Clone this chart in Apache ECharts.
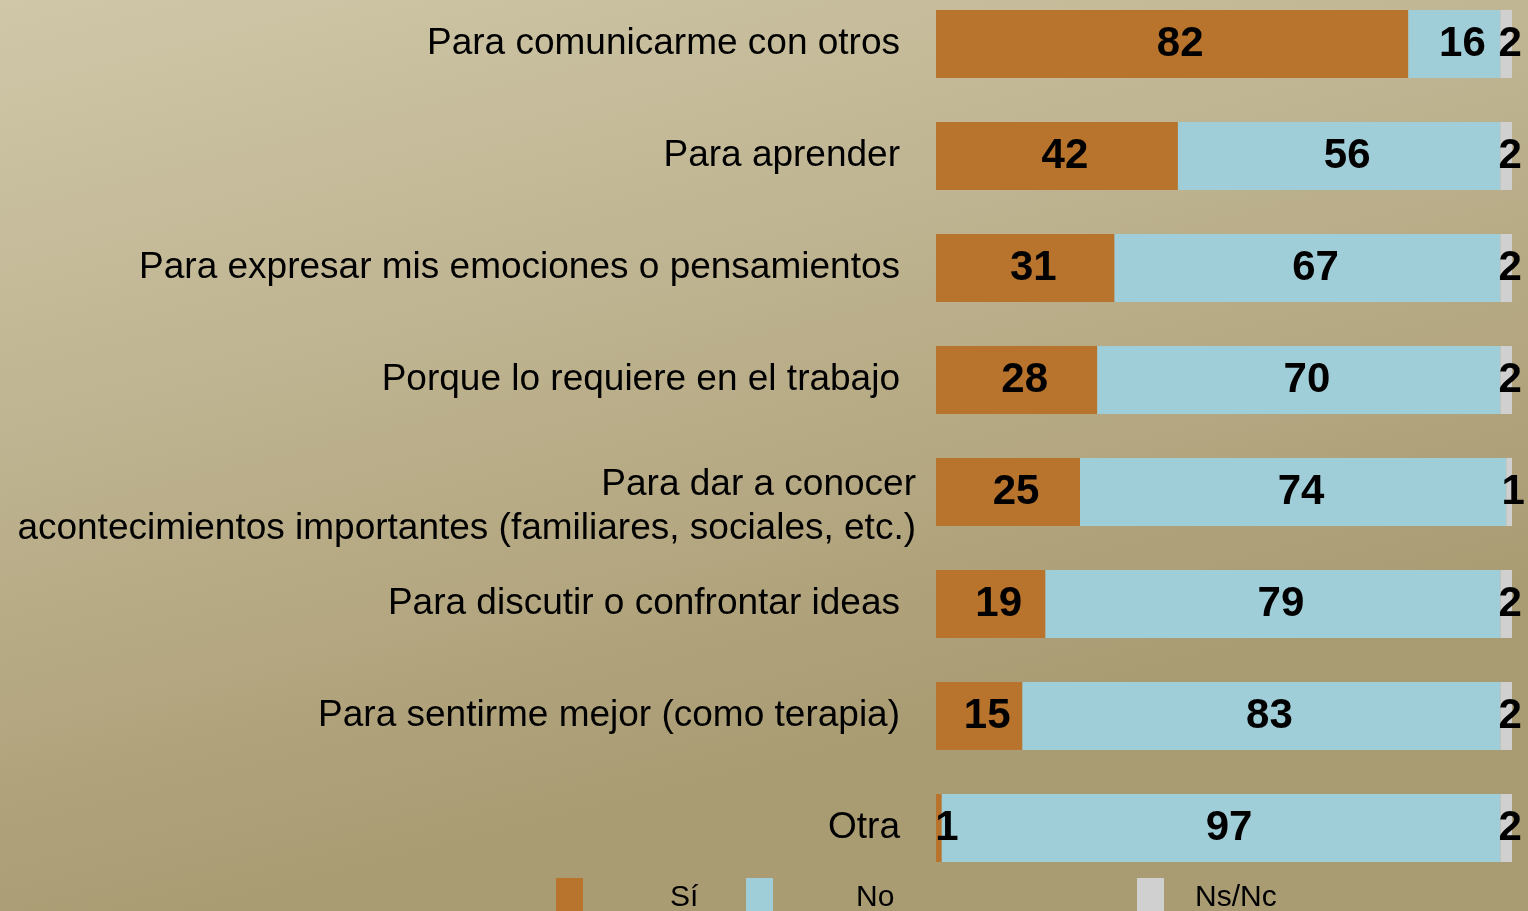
<!DOCTYPE html>
<html>
<head>
<meta charset="utf-8">
<script src="https://cdn.jsdelivr.net/npm/echarts@6/dist/echarts.min.js"></script>
<style>
  html, body { margin: 0; padding: 0; }
  #main { width: 1528px; height: 911px; }
</style>
</head>
<body>
<div id="main"></div>
<script>
// categorias (de arriba a abajo)
var categorias = [
  "Para comunicarme con otros",
  "Para aprender",
  "Para expresar mis emociones o pensamientos",
  "Porque lo requiere en el trabajo",
  "Para dar a conocer\nacontecimientos importantes (familiares, sociales, etc.)",
  "Para discutir o confrontar ideas",
  "Para sentirme mejor (como terapia)",
  "Otra"
];
var si   = [82, 42, 31, 28, 25, 19, 15, 1];
var no   = [16, 56, 67, 70, 74, 79, 83, 97];
var nsnc = [2, 2, 2, 2, 1, 2, 2, 2];

var colores = ["#b8732c", "#a0ced8", "#d0d0d0"];
var fuente = "Liberation Sans, Arial, sans-serif";

var chart = echarts.init(document.getElementById("main"));

// la etiqueta de dos lineas va un poco mas a la derecha
var yData = categorias.map(function (c, i) {
  if (i === 4) {
    return { value: c, textStyle: { padding: [0, -16, 0, 0] } };
  }
  return c;
});

function serie(nombre, datos, dx) {
  return {
    name: nombre,
    type: "bar",
    stack: "total",
    barWidth: 68,
    data: datos,
    label: {
      show: true,
      position: "inside",
      offset: [dx, 0],
      color: "#000",
      fontSize: 42,
      fontWeight: "bold",
      fontFamily: fuente
    }
  };
}

function leyenda(nombre, x, pad) {
  return {
    data: [nombre],
    left: x,
    top: 878,
    padding: 0,
    icon: "rect",
    itemWidth: 27,
    itemHeight: 40,
    textStyle: {
      fontSize: 30,
      color: "#000",
      fontFamily: fuente,
      padding: [0, 0, 0, pad]
    }
  };
}

chart.setOption({
  animation: false,
  color: colores,
  backgroundColor: new echarts.graphic.LinearGradient(0, 0, 0.15, 1, [
    { offset: 0, color: "#cfc7a8" },
    { offset: 0.45, color: "#bfb491" },
    { offset: 1, color: "#a99b72" }
  ]),
  legend: [
    leyenda("Sí", 556, 82),
    leyenda("No", 746, 78),
    leyenda("Ns/Nc", 1137, 26)
  ],
  grid: {
    left: 936,
    width: 576,
    top: -12,
    height: 896,
    containLabel: false,
    outerBoundsMode: "none"
  },
  xAxis: {
    type: "value",
    min: 0,
    max: 100,
    show: false
  },
  yAxis: {
    type: "category",
    inverse: true,
    data: yData,
    axisLine: { show: false },
    axisTick: { show: false },
    splitLine: { show: false },
    axisLabel: {
      margin: 36,
      fontSize: 37,
      color: "#000",
      lineHeight: 44,
      fontFamily: fuente,
      // linea vacia arriba para bajar el texto de dos lineas
      formatter: function (v) {
        return v.indexOf("\n") >= 0 ? "{s| }\n" + v : v;
      },
      rich: {
        s: { fontSize: 2, lineHeight: 30 }
      }
    }
  },
  series: [
    serie("Sí", si, 8),
    serie("No", no, 8),
    serie("Ns/Nc", nsnc, 4)
  ]
});
</script>
</body>
</html>
